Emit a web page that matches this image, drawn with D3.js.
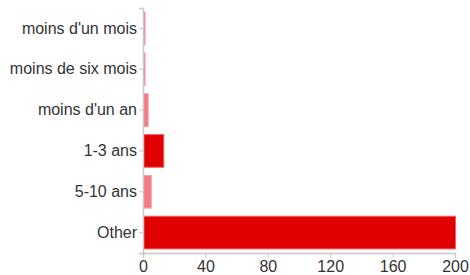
<!DOCTYPE html>
<html><head><meta charset="utf-8">
<script src="https://cdn.jsdelivr.net/npm/d3@7"></script>
<style>body{margin:0;background:#fff}svg{display:block}text{font-family:"Liberation Sans",Arial,sans-serif}</style>
</head><body>
<script>
const categories = ["moins d'un mois","moins de six mois","moins d'un an","1-3 ans","5-10 ans","Other"];
const values = [1, 1, 3, 13, 5, 200];
const highlight = [false, false, false, true, false, true];
const xTicks = [0, 40, 80, 120, 160, 200];

const W = 470, H = 275;
const m = {left: 143, right: 15, top: 8, bottom: 22};
const svg = d3.select("body").append("svg").attr("width", W).attr("height", H);
const x = d3.scaleLinear().domain([0, 200]).range([m.left, W - m.right]);
const y = d3.scaleBand().domain(categories).range([m.top, H - m.bottom]).paddingInner(0.2).paddingOuter(0.1);

svg.selectAll("rect.bar").data(categories).enter().append("rect")
  .attr("class","bar")
  .attr("x", x(0)+0.5)
  .attr("y", d => y(d))
  .attr("width", (d,i) => Math.max(0, x(values[i]) - x(0)))
  .attr("height", y.bandwidth())
  .attr("fill", (d,i) => highlight[i] ? "#e00000" : "#f57a84")
  .attr("stroke", (d,i) => highlight[i] ? "#f06060" : "#f7a0a6")
  .attr("stroke-width", 1);

const xa = svg.append("g").attr("transform", `translate(0,${H - m.bottom})`)
  .call(d3.axisBottom(x).tickValues(xTicks).tickSize(5).tickPadding(3));
const ya = svg.append("g").attr("transform", `translate(${m.left},0)`)
  .call(d3.axisLeft(y).tickSize(4).tickPadding(2));
[xa, ya].forEach(a => {
  a.select(".domain").attr("stroke", "#c8c8c8").attr("stroke-width", 1.5);
  a.selectAll(".tick line").attr("stroke", "#c8c8c8");
  a.selectAll("text").attr("fill", "#333").style("font-size", "16px").style("font-family", "'Liberation Sans', Arial, sans-serif");
});
</script>
</body></html>
